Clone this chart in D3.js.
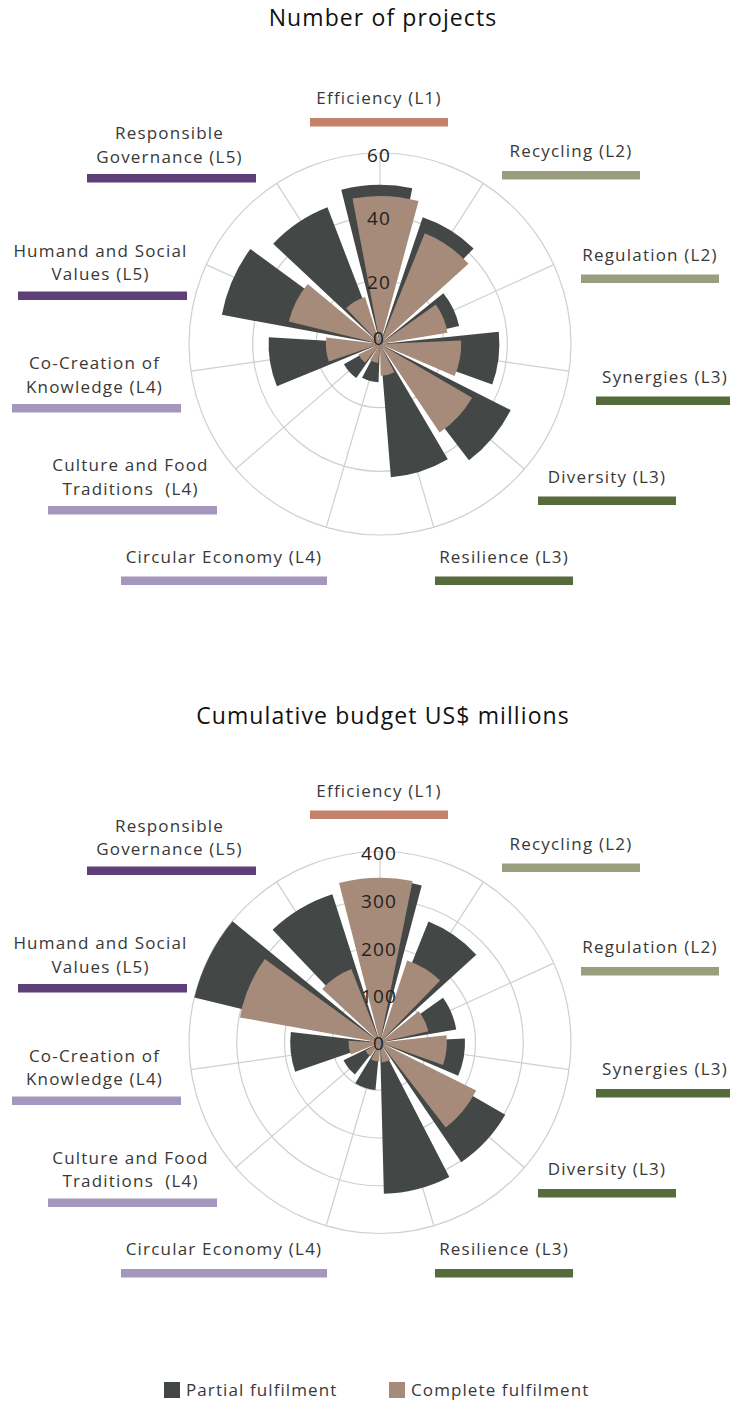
<!DOCTYPE html>
<html>
<head>
<meta charset="utf-8">
<style>
    body { margin: 0; background: #fff; }
    svg { display: block; font-family: 'Open Sans', sans-serif; font-weight: 400; }
    .title { font-size: 23px; fill: #111; letter-spacing: 1.1px; }
    .cat { font-size: 17px; fill: #383838; white-space: pre; letter-spacing: 1.2px; }
    .tick { font-size: 19px; fill: #222; letter-spacing: 1.2px; }
    .legend { font-size: 17px; fill: #383838; letter-spacing: 1.1px; }
</style>
</head>
<body>
<svg width="730" height="1402"></svg>

<script src="https://d3js.org/d3.v7.min.js"></script>
<script>

// ---- data ----
const categories = ["Efficiency", "Recycling", "Regulation", "Synergies", "Diversity", "Resilience",
    "Circular Economy", "Culture and Food Traditions", "Co-Creation of Knowledge",
    "Humand and Social Values", "Responsible Governance"];

const categoryLines = [
    ["Efficiency (L1)"], ["Recycling (L2)"], ["Regulation (L2)"], ["Synergies (L3)"],
    ["Diversity (L3)"], ["Resilience (L3)"], ["Circular Economy (L4)"],
    ["Culture and Food", "Traditions  (L4)"], ["Co-Creation of", "Knowledge (L4)"],
    ["Humand and Social", "Values (L5)"], ["Responsible", "Governance (L5)"]
];
const categoryLevel = ["L1", "L2", "L2", "L3", "L3", "L3", "L4", "L4", "L4", "L5", "L5"];

const projectsPartial  = [50, 42, 25.5, 37.5, 46, 42, 12, 13, 35, 50.5, 46];
const projectsComplete = [46.5, 37.5, 21.5, 25.5, 33.5, 10, 6, 7.5, 17, 29.5, 15.5];
const projectTicks = [0, 20, 40, 60];

const budgetPartial  = [340, 273, 162, 178, 303, 317, 100, 85, 188, 400, 326];
const budgetComplete = [345, 181, 104, 140, 225, 42, 40, 35, 66, 298, 165];
const budgetTicks = [0, 100, 200, 300, 400];

const seriesNames = ["Partial fulfilment", "Complete fulfilment"];

// ---- styling / layout ----
const seriesColors = ["#434846", "#a68a7a"];
const levelColors = { L1: "#c4826c", L2: "#9a9e7e", L3: "#566b3c", L4: "#a596bd", L5: "#5e3f79" };

// colour bar of each category label: [left, right, top] (chart 1 coordinates)
const labelBars = [
    [310, 448, 118], [502, 640, 171], [581, 719, 274.5], [596, 734, 396.5],
    [538, 676, 496.5], [435, 573, 576.5], [121, 327, 576.5], [48, 217, 506],
    [12, 181, 404], [18, 187, 291.5], [87, 256, 174]
];

const svg = d3.select("svg");

function polarChart(opt) {
    const g = svg.append("g");
    const cx = 380, cy = opt.cy, R = 191;

    g.append("text")
        .attr("class", "title")
        .attr("x", 383).attr("y", opt.titleY)
        .attr("text-anchor", "middle")
        .text(opt.title);

    // category labels with coloured bars
    const lab = g.append("g").attr("transform", `translate(0,${opt.labelDy})`);
    categoryLines.forEach((lines, i) => {
        const [x0, x1, top] = labelBars[i];
        const mid = (x0 + x1) / 2;
        lab.append("rect")
            .attr("x", x0).attr("y", top)
            .attr("width", x1 - x0).attr("height", 8.5)
            .attr("fill", levelColors[categoryLevel[i]]);
        const lastBase = top - (lines.length > 1 ? 11.5 : 14);
        lines.forEach((t, k) => {
            lab.append("text")
                .attr("class", "cat")
                .attr("x", mid - (lines.length > 1 ? 2 : 0))
                .attr("y", lastBase - (lines.length - 1 - k) * 23.3)
                .attr("text-anchor", "middle")
                .text(t);
        });
    });

    const plot = g.append("g").attr("transform", `translate(${cx},${cy})`);

    const r = d3.scaleLinear().domain([0, opt.max]).range([0, R]);
    const step = 2 * Math.PI / categories.length;
    const angle = d3.scaleBand()
        .domain(categories)
        .range([-step / 2, 2 * Math.PI - step / 2]);
    const center = c => angle(c) + angle.bandwidth() / 2;
    const deg = Math.PI / 180;
    const half = 12.9 * deg;

    // grid
    plot.append("g").selectAll("circle")
        .data(opt.ticks.slice(1))
        .join("circle")
        .attr("r", d => r(d))
        .attr("fill", "none")
        .attr("stroke", "#cfcfcf")
        .attr("stroke-width", 1.2);

    plot.append("g").selectAll("line")
        .data(categories)
        .join("line")
        .attr("x1", 0).attr("y1", 0)
        .attr("x2", d => R * Math.sin(center(d)))
        .attr("y2", d => -R * Math.cos(center(d)))
        .attr("stroke", "#cfcfcf")
        .attr("stroke-width", 1.2);

    const arc = d3.arc().innerRadius(0);

    const series = [opt.partial, opt.complete];
    series.forEach((vals, s) => {
        const off = opt.offsets[s] * deg;
        plot.append("g").selectAll("path")
            .data(categories)
            .join("path")
            .attr("d", (c, i) => arc({
                outerRadius: r(vals[i]),
                startAngle: center(c) + off - half,
                endAngle: center(c) + off + half
            }))
            .attr("fill", seriesColors[s]);
    });

    // radial tick labels
    plot.append("g").selectAll("text")
        .data(opt.ticks)
        .join("text")
        .attr("class", "tick")
        .attr("x", -1)
        .attr("y", d => (d === 0 ? opt.zeroDy : 0) - r(d) + 1.5)
        .attr("text-anchor", "middle")
        .attr("dominant-baseline", "central")
        .text(d => d);
}

polarChart({
    title: "Number of projects", titleY: 26, cy: 344, labelDy: 0,
    max: 60, ticks: projectTicks, zeroDy: -8,
    partial: projectsPartial, complete: projectsComplete,
    offsets: [-1.2, 2.2]
});

polarChart({
    title: "Cumulative budget US$ millions", titleY: 724, cy: 1042.5, labelDy: 692.5,
    max: 400, ticks: budgetTicks, zeroDy: -1,
    partial: budgetPartial, complete: budgetComplete,
    offsets: [2, -1.5]
});

// legend
const legend = svg.append("g").attr("transform", "translate(0,1382)");
const legendX = [164, 389];
seriesNames.forEach((name, i) => {
    legend.append("rect")
        .attr("x", legendX[i]).attr("y", 0)
        .attr("width", 16).attr("height", 16)
        .attr("fill", seriesColors[i]);
    legend.append("text")
        .attr("class", "legend")
        .attr("x", legendX[i] + 22).attr("y", 14)
        .text(name);
});

</script>
</body>
</html>
